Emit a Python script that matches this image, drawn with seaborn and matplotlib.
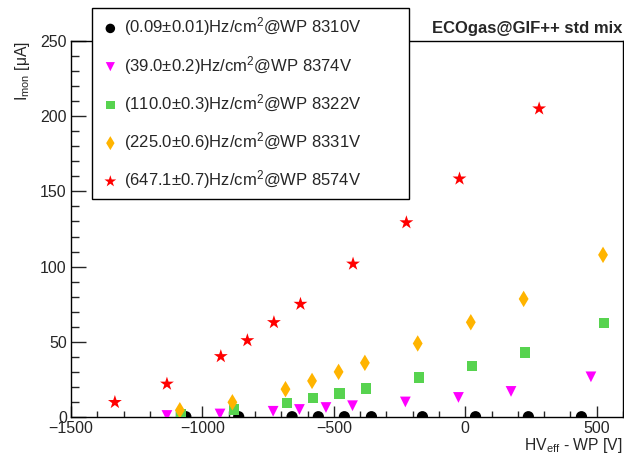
import numpy as np
import pandas as pd
import matplotlib
matplotlib.use("Agg")
import matplotlib.pyplot as plt
import seaborn as sns
from matplotlib.ticker import MultipleLocator

# ---- data ----
labels = [
    "(0.09\u00b10.01)Hz/cm$^2$@WP 8310V",
    "(39.0\u00b10.2)Hz/cm$^2$@WP 8374V",
    "(110.0\u00b10.3)Hz/cm$^2$@WP 8322V",
    "(225.0\u00b10.6)Hz/cm$^2$@WP 8331V",
    "(647.1\u00b10.7)Hz/cm$^2$@WP 8574V",
]
x_black = [-1063, -862, -659, -559, -460, -357, -163, 39, 240, 442]
y_black = [0.2, 0.2, 0.2, 0.2, 0.2, 0.2, 0.2, 0.2, 0.2, 0.2]
x_magenta = [-1135, -933, -731, -631, -530, -429, -228, -26, 174, 478]
y_magenta = [1.0, 2.0, 3.8, 5.0, 6.3, 7.5, 10.0, 13.0, 17.0, 26.7]
x_green = [-1082, -881, -679, -579, -478, -378, -176, 26, 228, 528]
y_green = [1.8, 4.9, 9.3, 12.5, 15.6, 18.9, 26.3, 34.0, 42.9, 62.3]
x_orange = [-1086, -886, -684, -583, -482, -382, -181, 21, 222, 524]
y_orange = [4.5, 9.8, 18.5, 24.0, 30.0, 36.0, 48.9, 63.0, 78.5, 107.8]
x_red = [-1333, -1135, -930, -829, -728, -627, -427, -224, -22, 281]
y_red = [9.8, 22.0, 40.3, 50.9, 62.9, 75.1, 101.8, 129.3, 158.4, 205.0]

xs = [x_black, x_magenta, x_green, x_orange, x_red]
ys = [y_black, y_magenta, y_green, y_orange, y_red]

rows = []
for lab, xx, yy in zip(labels, xs, ys):
    for a, b in zip(xx, yy):
        rows.append({"series": lab, "x": a, "y": b})
df = pd.DataFrame(rows)

colors = ["#000000", "#ff00ff", "#57d34f", "#ffb400", "#ff0000"]
markers = ["o", "v", "s", "d", "*"]
sizes = [65, 60, 55, 70, 110]

sns.set_style("ticks")
plt.rcParams["font.family"] = ["Liberation Sans", "DejaVu Sans"]
plt.rcParams["mathtext.fontset"] = "custom"
plt.rcParams["mathtext.rm"] = "Liberation Sans"
plt.rcParams["mathtext.it"] = "Liberation Sans:italic"
plt.rcParams["mathtext.bf"] = "Liberation Sans:bold"

fig = plt.figure(figsize=(6.24, 4.55), dpi=100)
ax = fig.add_axes([71 / 624, 1 - 417 / 455, (623 - 71) / 624, (417 - 41) / 455])

for lab, c, m, s in zip(labels, colors, markers, sizes):
    sub = df[df["series"] == lab]
    sns.scatterplot(data=sub, x="x", y="y", color=c, marker=m, s=s,
                    edgecolor="none", linewidth=0, ax=ax, label=lab, zorder=3)

ax.set_xlim(-1500, 600)
ax.set_ylim(0, 250)
ax.xaxis.set_major_locator(MultipleLocator(500))
ax.xaxis.set_minor_locator(MultipleLocator(100))
ax.yaxis.set_major_locator(MultipleLocator(50))
ax.yaxis.set_minor_locator(MultipleLocator(10))
ax.tick_params(axis="x", which="major", direction="in", length=8, width=1, labelsize=11.5, pad=3)
ax.tick_params(axis="x", which="minor", direction="in", length=4, width=1)
ax.tick_params(axis="y", which="major", direction="in", length=11, width=1, labelsize=11.5, pad=3)
ax.tick_params(axis="y", which="minor", direction="in", length=5.5, width=1)
for sp in ax.spines.values():
    sp.set_linewidth(1)
    sp.set_color("black")
    sp.set_visible(True)

ax.set_xlabel("HV$_{\\mathrm{eff}}$ - WP [V]", fontsize=11.3, loc="right", labelpad=0)
ax.set_ylabel("I$_{\\mathrm{mon}}$ [\u03bcA]", fontsize=11.3, loc="top", labelpad=6)

ax.get_legend().remove()
handles, labs = ax.get_legend_handles_labels()
leg = fig.legend(handles, labs, loc="upper left",
                 bbox_to_anchor=(92 / 624, 1 - 196 / 455, 317 / 624, 188 / 455),
                 mode="expand",
                 fontsize=12, frameon=True, fancybox=False, framealpha=1,
                 edgecolor="black", borderpad=0.45, labelspacing=0.92,
                 handletextpad=0.2, handlelength=1.3, borderaxespad=0,
                 markerscale=0.85)
leg.get_frame().set_linewidth(1)
leg.set_zorder(10)

fig.text(622 / 624, 1 - 28.5 / 455, "ECOgas@GIF++ std mix", ha="right", va="center",
         fontsize=12, fontweight="bold")

fig.savefig("out.png", dpi=100)
